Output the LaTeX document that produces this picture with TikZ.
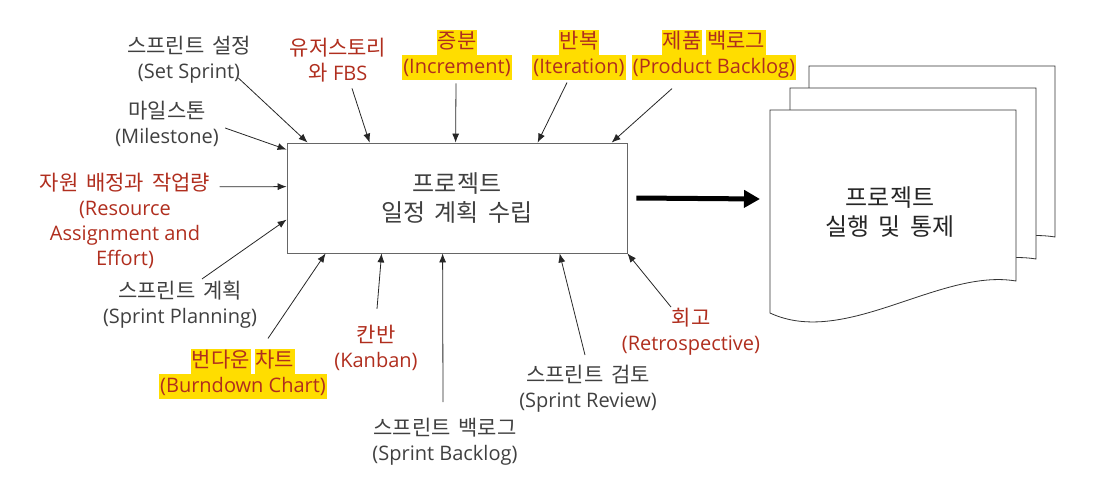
\documentclass[tikz,border=0pt]{standalone}
\usepackage{fontspec}
\setmainfont{Open Sans}
\newfontfamily\krfont[WordSpace=2.2]{Noto Sans CJK KR}
\newfontfamily\krlabelfont[WordSpace=1.7]{Noto Sans CJK KR}
\usetikzlibrary{arrows.meta}

\definecolor{txtgray}{RGB}{64,64,64}
\definecolor{txtred}{RGB}{176,46,30}
\definecolor{hlyellow}{RGB}{255,221,0}

% Korean line and highlighted word.
\newcommand{\kr}[1]{{\krlabelfont\fontsize{21}{25}\selectfont #1}}
\newcommand{\hl}[1]{{\setlength{\fboxsep}{1pt}\colorbox{hlyellow}{\rule[-6pt]{0pt}{23pt}#1}}}

\begin{document}
\begin{tikzpicture}[%
        x = 1pt,
        y = -1pt,
        > = {Latex[length=9pt, width=7pt]},
        line width = 0.8pt,
        label/.style = {align=center, inner sep=1pt, font=\fontsize{20}{25}\selectfont},
        graylabel/.style = {label, text=txtgray},
        redlabel/.style = {label, text=txtred},
        inarrow/.style = {->, draw=black!85},
        docline/.style = {draw=black!80, fill=white}
    ]

        % Frame of the picture.
        \useasboundingbox (0,0) rectangle (1105,493);

        % Stack of documents.
        \foreach \dx/\dy in {39/-44, 20/-22, 0/0} {
            \draw[docline, shift={(\dx,\dy)}]
                (770,110) -- (1016,110) -- (1016,281)
                .. controls (940,268) and (845,348) .. (770,313) -- cycle;
        }
        \node[text=black!85, align=center, font=\krfont\fontsize{24}{29}\selectfont]
            (exec) at (890,212) {프로젝트\\실행 및 통제};
        \coordinate (doc) at (770,199); % Left edge of the front document.

        % Central box.
        \node[%
            draw = black!60,
            minimum width = 340pt,
            minimum height = 110pt,
            text = txtgray,
            align = center,
            font = \krfont\fontsize{24}{29}\selectfont
        ] (plan) at (457,198) {프로젝트\\일정 계획 수립};

        % Labels above.
        \node[graylabel] (setsprint) at (189,60) {\kr{스프린트 설정}\\(Set Sprint)};
        \node[redlabel] (fbs) at (338,60) {\kr{유저스토리}\\\kr{와} FBS};
        \node[redlabel] (inc) at (457,55) {\kr{\hl{증분}}\\\hl{(Increment)}};
        \node[redlabel] (iter) at (579,55) {\kr{\hl{반복}}\\\hl{(Iteration)}};
        \node[redlabel] (pb) at (714,55) {\kr{\hl{제품}\hspace{4pt}\hl{백로그}}\\\hl{(Product Backlog)}};

        % Labels on the left.
        \node[graylabel] (milestone) at (167,124) {\kr{마일스톤}\\(Milestone)};
        \node[redlabel] (res) at (125,221) {\kr{자원 배정과 작업량}\\(Resource\\Assignment and\\Effort)};
        \node[graylabel] (sprplan) at (180,305) {\kr{스프린트 계획}\\(Sprint Planning)};

        % Labels below.
        \node[redlabel] (burn) at (243,374) {\kr{\hl{번다운}\hspace{4pt}\hl{차트}}\\\hl{(Burndown Chart)}};
        \node[redlabel] (kanban) at (376,348) {\kr{칸반}\\(Kanban)};
        \node[graylabel] (sprback) at (445,442) {\kr{스프린트 백로그}\\(Sprint Backlog)};
        \node[graylabel] (review) at (588,389) {\kr{스프린트 검토}\\(Sprint Review)};
        \node[redlabel] (retro) at (691,332) {\kr{회고}\\(Retrospective)};

        % Inputs from above.
        \draw[inarrow] ([shift={(-14,-7)}]setsprint.south east) to ([shift={(21,0)}]plan.north west);
        \draw[inarrow] ([shift={(14,5)}]fbs.south) to ([shift={(83,0)}]plan.north west);
        \draw[inarrow] ([shift={(-1,2)}]inc.south) to ([shift={(169,0)}]plan.north west);
        \draw[inarrow] ([shift={(-12,1)}]iter.south) to ([shift={(251,0)}]plan.north west);
        \draw[inarrow] ([shift={(-42,7)}]pb.south) to ([shift={(325,0)}]plan.north west);

        % Inputs from the left.
        \draw[inarrow] ([shift={(5,4)}]milestone.east) to ([shift={(0,7)}]plan.north west);
        \draw[inarrow] ([shift={(8,15)}]res.north east) to ([shift={(0,44)}]plan.north west);
        \draw[inarrow] ([shift={(22,-1)}]sprplan.north) to ([shift={(0,77)}]plan.north west);

        % Inputs from below.
        \draw[inarrow] ([shift={(25,-9)}]burn.north) to ([shift={(39,0)}]plan.south west);
        \draw[inarrow] ([shift={(1,-15)}]kanban.north) to ([shift={(95,0)}]plan.south west);
        \draw[inarrow] ([shift={(-2,-15)}]sprback.north) to ([shift={(156,0)}]plan.south west);
        \draw[inarrow] ([shift={(-3,-9)}]review.north) to ([shift={(273,0)}]plan.south west);
        \draw[inarrow] ([shift={(-20,0)}]retro.north) to (plan.south east);

        % Output arrow.
        \draw[line width=5pt, -{Triangle[length=16pt, width=17pt]}]
            ([xshift=9pt]plan.east) to ([xshift=-10pt]doc);
    \end{tikzpicture}
\end{document}
